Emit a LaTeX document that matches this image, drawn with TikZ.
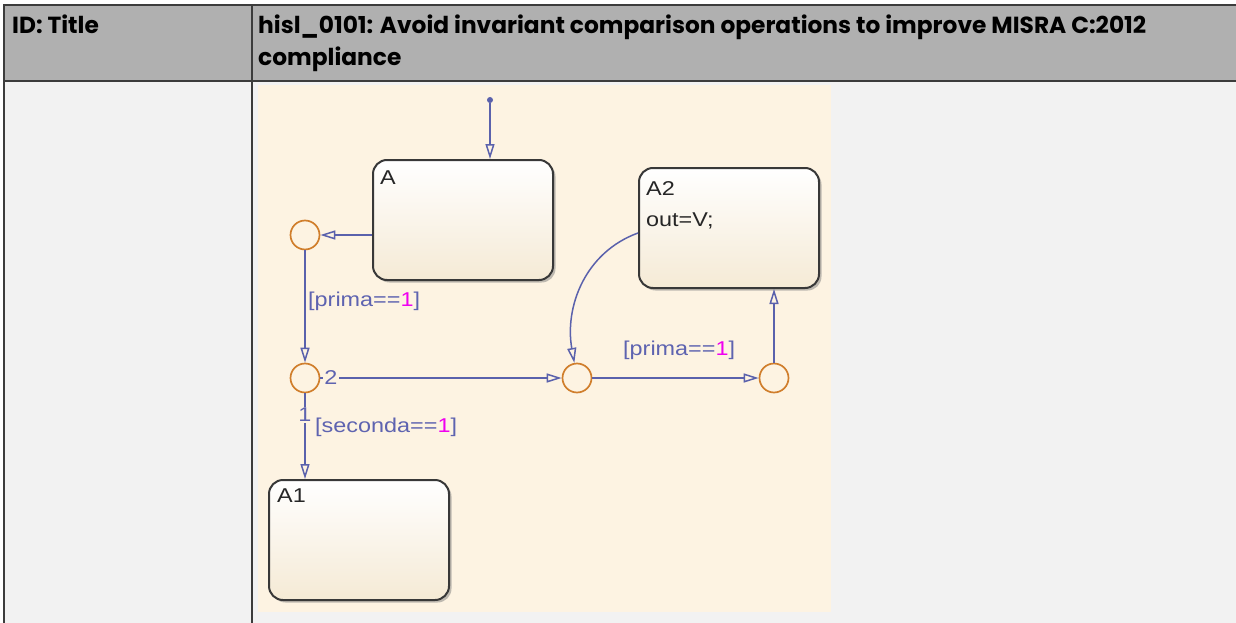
\documentclass[tikz,border=0pt]{standalone}
\usepackage{fontspec}
\setmainfont{Liberation Sans}
\newfontfamily\chartfont[FakeStretch=1.17]{Liberation Sans}
\newfontfamily\headfont{Poppins}
\usetikzlibrary{arrows.meta, positioning, shadows, calc}
\definecolor{chead}{HTML}{B0B0B0}
\definecolor{cbody}{HTML}{F2F2F2}
\definecolor{crule}{HTML}{3C3C3C}
\definecolor{ccream}{HTML}{FDF3E2}
\definecolor{cstate}{HTML}{F5EAD5}
\definecolor{cline}{HTML}{5A61AC}
\definecolor{clabel}{HTML}{5E63B0}
\definecolor{cjunc}{HTML}{D07E2C}
\definecolor{cmag}{HTML}{F000F0}
\tikzset{
  every picture/.style={x=1pt, y=-1pt},
  state/.style={draw=black!78, line width=2pt, rounded corners=14pt, minimum width=180pt, minimum height=120pt,
    top color=white, bottom color=cstate, drop shadow={opacity=0.5, shadow xshift=2.5pt, shadow yshift=-2.5pt}},
  statelbl/.style={anchor=north west, font=\chartfont\fontsize{20}{31}\selectfont, text=black!85, align=left, inner sep=0pt},
  junction/.style={circle, draw=cjunc, line width=1.7pt, minimum size=29pt, inner sep=0pt},
  trans/.style={draw=cline, line width=1.5pt, -{Triangle[open, length=15pt, width=9pt]}},
  guard/.style={font=\chartfont\fontsize{20}{22}\selectfont, text=clabel, inner sep=1pt},
  head/.style={font=\headfont\bfseries\fontsize{23.3}{32}\selectfont, anchor=base west, inner sep=0pt},
}
\newcommand{\one}{\textcolor{cmag}{1}}

\begin{document}
\begin{tikzpicture}
  \useasboundingbox (0,0) rectangle (1236,623);

  % ---- table
  \fill[chead] (4,5) rectangle (1236,81);
  \fill[cbody] (4,81) rectangle (1236,623);
  \draw[crule, line width=1.2pt] (1236,5) -- (4,5) -- (4,623);
  \draw[crule, line width=1.2pt] (4,81) -- (1236,81);
  \draw[crule, line width=1.2pt] (252,5) -- (252,623);
  \node[head] (id) at (12,34) {ID: Title};
  \node[head] (t1) at (258,34) {hisl\_0101: Avoid invariant comparison operations to improve MISRA C:2012};
  \node[head] (t2) at (258,66) {compliance};

  % ---- chart
  \fill[ccream] (258,85) rectangle (831,612);

  \node[state] (A)  at (463,220) {};
  \node[state] (A2) at (729,228) {};
  \node[state] (A1) at (359,540) {};
  \node[statelbl] at ([xshift=8pt,yshift=-12pt]A.north west)  {A};
  \node[statelbl] at ([xshift=8pt,yshift=-14pt]A2.north west) {A2\\out=V;};
  \node[statelbl] at ([xshift=9pt,yshift=-10pt]A1.north west) {A1};

  \node[junction] (j1) at (305,235) {};
  \node[junction] (j2) at (305,378) {};
  \node[junction] (j3) at (577,378) {};
  \node[junction] (j4) at (774,378) {};
  \node[circle, fill=cline, inner sep=0pt, minimum size=6pt] (init) at (490,100) {};

  % ---- transitions
  \draw[trans] (init) -- (init |- A.north);
  \draw[trans] (A.west |- j1) -- (j1);
  \draw[trans] (j1) -- (j2);
  \node[guard, anchor=west] (g1) at (307,301) {[prima==\one]};
  \draw[trans] (j2) -- (j3);
  \node[guard, fill=ccream] (n2) at (331,378) {2};
  \draw[trans] (j3) -- (j4);
  \node[guard, anchor=west] (g2) at (622,350) {[prima==\one]};
  \draw[trans] (j4) -- (j4 |- A2.south);
  \draw[trans] ([yshift=-5pt]A2.west) to[out=200, in=100] (j3.100);
  \draw[trans] (j2) -- (j2 |- A1.north);
  \node[guard, fill=ccream] (n1) at (305,415) {1};
  \node[guard, anchor=west] (g3) at (314,427) {[seconda==\one]};
\end{tikzpicture}
\end{document}
